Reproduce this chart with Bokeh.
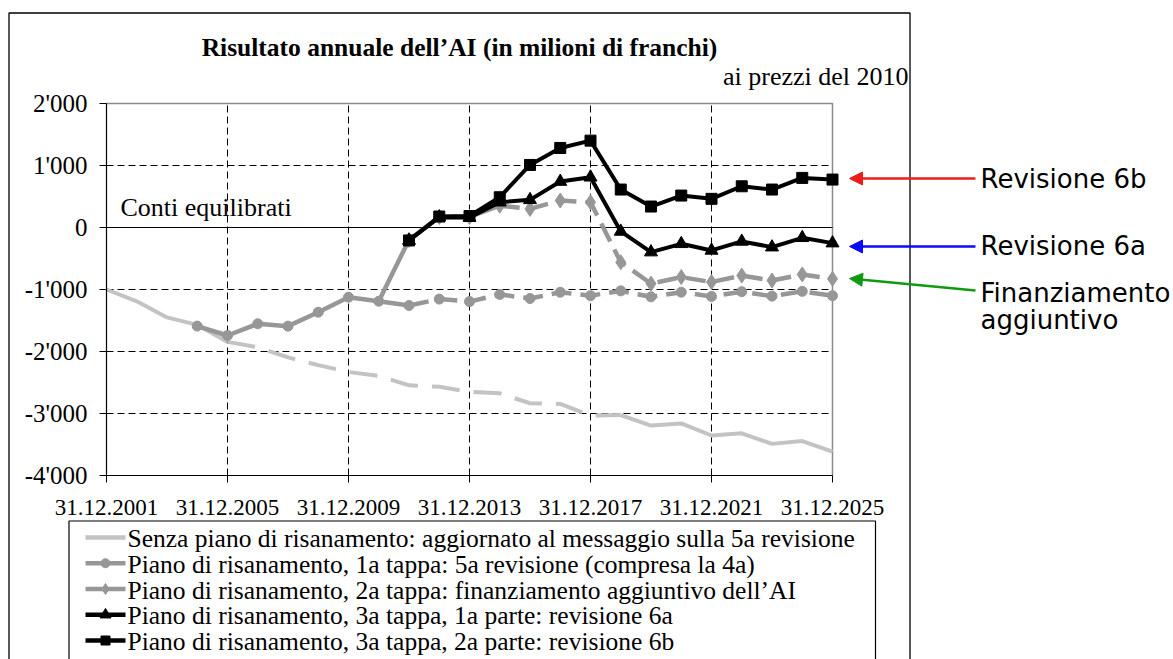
from bokeh.plotting import figure
from bokeh.models import (Range1d, FixedTicker, Label, Arrow, NormalHead,
                          LinearAxis)
from bokeh.embed import file_html
from bokeh.resources import INLINE

# ---------------- data ----------------
years = list(range(2001, 2026))
senza = [-1000, -1190, -1450, -1570, -1845, -1930, -2095, -2220, -2330, -2395,
         -2545, -2570, -2650, -2675, -2835, -2845, -3035, -3025, -3195, -3160,
         -3355, -3320, -3490, -3445, -3615]

years_1a = list(range(2004, 2026))
tappa1 = [-1590, -1742, -1553, -1591, -1366, -1124, -1190, -1258, -1155, -1195,
          -1080, -1145, -1045, -1100, -1022, -1118, -1043, -1112, -1035, -1107,
          -1030, -1100]

years_2a = list(range(2010, 2026))
tappa2 = [-1190, -200, 170, 170, 352, 300, 435, 408, -560, -905, -800, -880,
          -775, -855, -757, -827]

years_6 = list(range(2011, 2026))
rev6a = [-209, 166, 160, 408, 446, 741, 810, -64, -397, -263, -370, -225, -317,
         -166, -252]
rev6b = [-209, 177, 185, 488, 1009, 1283, 1401, 612, 338, 515, 462, 665, 612,
         800, 773]

x_ticks = [2001, 2005, 2009, 2013, 2017, 2021, 2025]
x_tick_labels = ["31.12.2001", "31.12.2005", "31.12.2009", "31.12.2013",
                 "31.12.2017", "31.12.2021", "31.12.2025"]
y_ticks = [-4000, -3000, -2000, -1000, 0, 1000, 2000]
y_tick_labels = ["-4'000", "-3'000", "-2'000", "-1'000", "0", "1'000", "2'000"]

legend_labels = [
    "Senza piano di risanamento: aggiornato al messaggio sulla 5a revisione",
    "Piano di risanamento, 1a tappa: 5a revisione (compresa la 4a)",
    "Piano di risanamento, 2a tappa:  finanziamento aggiuntivo dell\u2019AI",
    "Piano di risanamento, 3a tappa, 1a parte: revisione 6a",
    "Piano di risanamento, 3a tappa, 2a parte: revisione 6b",
]
title_text = "Risultato annuale dell\u2019AI (in milioni di franchi)"
subtitle_text = "ai prezzi del 2010"
zero_text = "Conti equilibrati"
note_6b = "Revisione 6b"
note_6a = "Revisione 6a"
note_fin = ["Finanziamento", "aggiuntivo"]

# ---------------- geometry helpers (page px -> data) ----------------
W, H = 1173, 659
FL, FT, FR, FB = 106, 103, 832, 475      # plot area in page px
X0, X1, Y0, Y1 = 2001, 2025, -4000, 2000  # plot area in data units


def X(px):
    return X0 + (px - FL) * (X1 - X0) / (FR - FL)


def Y(py):
    return Y1 - (py - FT) * (Y1 - Y0) / (FB - FT)


SERIF = "Liberation Serif"
SANS = "DejaVu Sans"
LIGHT = "#c3c3c3"
GRAY = "#979797"

p = figure(width=W, height=H, min_border=0,
           x_range=Range1d(X(0), X(W)), y_range=Range1d(Y(H), Y(0)),
           x_axis_type=None, y_axis_type=None,
           output_backend="svg", toolbar_location=None,
           background_fill_color="white", border_fill_color="white")
p.outline_line_color = None

# grid (dashed) inside the plot area
p.segment(x0=x_ticks, y0=[Y0] * len(x_ticks), x1=x_ticks, y1=[Y1] * len(x_ticks),
          line_color="black", line_width=1, line_dash="7 4")
p.segment(x0=[X0] * len(y_ticks), y0=y_ticks, x1=[X1] * len(y_ticks), y1=y_ticks,
          line_color="black", line_width=1, line_dash="7 4")
# plot area border (top / right) and zero line
p.line([X0, X1, X1], [Y1, Y1, Y0], line_color="#8a8a8a", line_width=1.5)
p.segment(x0=[X0], y0=[0], x1=[X1], y1=[0], line_color="black", line_width=1.2)

# axes fixed at the plot area edges
xaxis = LinearAxis(fixed_location=Y0, bounds=(X0, X1),
                   ticker=FixedTicker(ticks=x_ticks),
                   major_label_overrides=dict(zip(x_ticks, x_tick_labels)))
yaxis = LinearAxis(fixed_location=X0, bounds=(Y0, Y1),
                   ticker=FixedTicker(ticks=y_ticks),
                   major_label_overrides=dict(zip(y_ticks, y_tick_labels)))
for ax in (xaxis, yaxis):
    ax.axis_line_color = "black"
    ax.axis_line_width = 1.2
    ax.major_tick_out = 7
    ax.major_tick_in = 0
    ax.minor_tick_out = 0
    ax.minor_tick_in = 0
    ax.major_tick_line_color = "black"
    ax.major_label_text_font = SERIF
    ax.major_label_text_color = "black"
xaxis.major_label_text_font_size = "23px"
yaxis.major_label_text_font_size = "25px"
xaxis.major_label_standoff = 17
yaxis.major_label_standoff = 12
p.add_layout(xaxis, "below")
p.add_layout(yaxis, "left")

# ---------------- series ----------------
i05, i18 = years.index(2005), years.index(2018)
p.line(years[:i05 + 1], senza[:i05 + 1], line_color=LIGHT, line_width=4)
p.line(years[i05:i18 + 1], senza[i05:i18 + 1], line_color=LIGHT, line_width=4,
       line_dash="28 14")
p.line(years[i18:], senza[i18:], line_color=LIGHT, line_width=4)

j11 = years_1a.index(2011)
p.line(years_1a[:j11 + 1], tappa1[:j11 + 1], line_color=GRAY, line_width=4.5)
p.line(years_1a[j11:], tappa1[j11:], line_color=GRAY, line_width=4.5,
       line_dash="20 9")
p.scatter(years_1a, tappa1, marker="circle", size=10,
          fill_color=GRAY, line_color=GRAY)

k14 = years_2a.index(2014)
p.line(years_2a[:k14 + 1], tappa2[:k14 + 1], line_color=GRAY, line_width=4.5)
p.line(years_2a[k14:], tappa2[k14:], line_color=GRAY, line_width=4.5,
       line_dash="20 9")
p.scatter(years_2a[1:], tappa2[1:], marker="diamond", size=15,
          fill_color=GRAY, line_color=GRAY)

p.line(years_6, rev6a, line_color="black", line_width=4)
p.scatter(years_6, rev6a, marker="triangle", size=13,
          fill_color="black", line_color="black")

p.line(years_6, rev6b, line_color="black", line_width=4)
p.scatter(years_6, rev6b, marker="square", size=11,
          fill_color="black", line_color="black")

# ---------------- outer frame ----------------
p.line([X(8.5), X(8.5), X(909.5), X(909.5)], [Y(H + 5), Y(12.5), Y(12.5), Y(H + 5)],
       line_color="black", line_width=1.3)

# ---------------- legend (box, swatches, labels) ----------------
LEG_L, LEG_T, LEG_R = 68.5, 520.5, 875
p.line([X(LEG_L), X(LEG_L), X(LEG_R), X(LEG_R)],
       [Y(H + 5), Y(LEG_T), Y(LEG_T), Y(H + 5)],
       line_color="black", line_width=1.2)
swatch_styles = [(LIGHT, None, 0), (GRAY, "circle", 9), (GRAY, "diamond", 11),
                 ("black", "triangle", 11), ("black", "square", 9)]
ROW0, PITCH = 537, 25.75
for i, (label, (col, mk, ms)) in enumerate(zip(legend_labels, swatch_styles)):
    ry = ROW0 + i * PITCH
    p.segment(x0=[X(85)], y0=[Y(ry)], x1=[X(125)], y1=[Y(ry)],
              line_color=col, line_width=4.5)
    if mk:
        p.scatter([X(105)], [Y(ry)], marker=mk, size=ms,
                  fill_color=col, line_color=col)
    p.add_layout(Label(x=X(127), y=Y(ry + 1), text=label, text_align="left",
                       text_baseline="middle", text_font=SERIF,
                       text_font_size="25.5px", text_color="black"))


# ---------------- texts ----------------
def add_text(px, py, txt, font, size, align="left", style="normal"):
    p.add_layout(Label(x=X(px), y=Y(py), text=txt, text_align=align,
                       text_baseline="middle", text_font=font,
                       text_font_style=style, text_font_size=size,
                       text_color="black"))


add_text(459, 47, title_text, SERIF, "25.5px", align="center", style="bold")
add_text(908, 76, subtitle_text, SERIF, "26px", align="right")
add_text(120, 207, zero_text, SERIF, "26px")
add_text(980, 178, note_6b, SANS, "26px")
add_text(980, 245, note_6a, SANS, "26px")
add_text(980, 292, note_fin[0], SANS, "26px")
add_text(980, 319, note_fin[1], SANS, "26px")

arrows = [(178, 178, "#ee1c1c"), (246, 246, "#0a0aff"), (290, 278, "#109a10")]
for ys, ye, col in arrows:
    p.add_layout(Arrow(end=NormalHead(size=13, fill_color=col, line_color=col),
                       x_start=X(975), y_start=Y(ys), x_end=X(849), y_end=Y(ye),
                       line_color=col, line_width=2.5))

open("out.html", "w").write(file_html(p, INLINE))
